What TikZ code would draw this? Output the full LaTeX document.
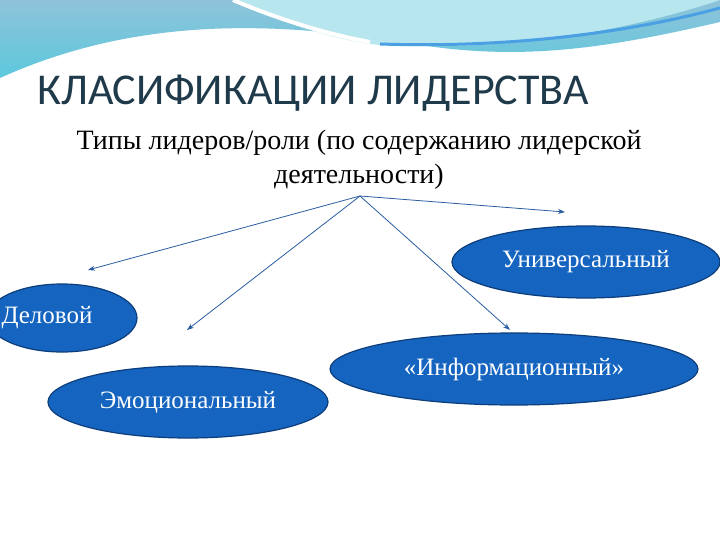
\documentclass[tikz,border=0pt]{standalone}
\usepackage{fontspec}
\setmainfont{Liberation Serif}
\newfontfamily\titlefont{Carlito}
\usetikzlibrary{shapes.geometric,arrows.meta}
\definecolor{ellfill}{HTML}{1565C0}
\definecolor{ellline}{HTML}{0D3D7A}
\definecolor{arr}{HTML}{2A5DA0}
\definecolor{tcol}{HTML}{1F3A4A}
\definecolor{wavea}{HTML}{8FC3DA}
\definecolor{waveb}{HTML}{5CC8DC}
\definecolor{wavec}{HTML}{B8E6EE}
\tikzset{
  ell/.style={ellipse, draw=ellline, line width=1.2pt, fill=ellfill, text=white, inner sep=0pt, font=\fontsize{25}{30}\selectfont},
  con/.style={draw=arr, line width=0.8pt, -{Stealth[length=7pt,width=5pt]}}
}
\begin{document}
\begin{tikzpicture}[x=1pt,y=-1pt]
\useasboundingbox (0,0) rectangle (720,540);
\fill[white] (0,0) rectangle (720,540);
% top wave
\shade[top color=wavea, bottom color=waveb]
 (0,0) -- (720,0) -- (720,22) .. controls (600,50) and (520,60) .. (420,45)
 .. controls (300,25) and (150,10) .. (0,78) -- cycle;
\fill[wavec] (233,0) .. controls (280,20) and (330,40) .. (380,45)
 .. controls (480,50) and (600,40) .. (720,0) -- cycle;
\draw[white, line width=4pt] (233,0) .. controls (280,20) and (330,35) .. (370,42);
\draw[waveb!80!blue, line width=3pt] (380,44) .. controls (500,48) and (620,35) .. (720,8);
% title
\node[anchor=west, text=tcol, font=\titlefont\fontsize{44}{50}\selectfont] (title) at (34,93) {КЛАСИФИКАЦИИ ЛИДЕРСТВА};
\node[align=center, font=\fontsize{28}{34}\selectfont] (sub) at (359,160) {Типы лидеров/роли (по содержанию лидерской\\деятельности)};
\coordinate (src) at (360,196);
% ellipses
\node[ell, minimum width=268pt, minimum height=72pt] (u) at (586,262) {Универсальный};
\node[ell, minimum width=150pt, minimum height=68pt] (d) at (62,318) {\hspace*{-30pt}Деловой};
\node[ell, minimum width=368pt, minimum height=72pt] (i) at (514,369) {«Информационный»};
\node[ell, minimum width=280pt, minimum height=72pt] (e) at (188,402) {Эмоциональный};
\coordinate (ad) at (88,270);
\coordinate (au) at (565,212);
\coordinate (ae) at (187,330);
\coordinate (ai) at (510,330);
\draw[con] (src) -- (ad);
\draw[con] (src) -- (au);
\draw[con] (src) -- (ae);
\draw[con] (src) -- (ai);
\end{tikzpicture}
\end{document}
